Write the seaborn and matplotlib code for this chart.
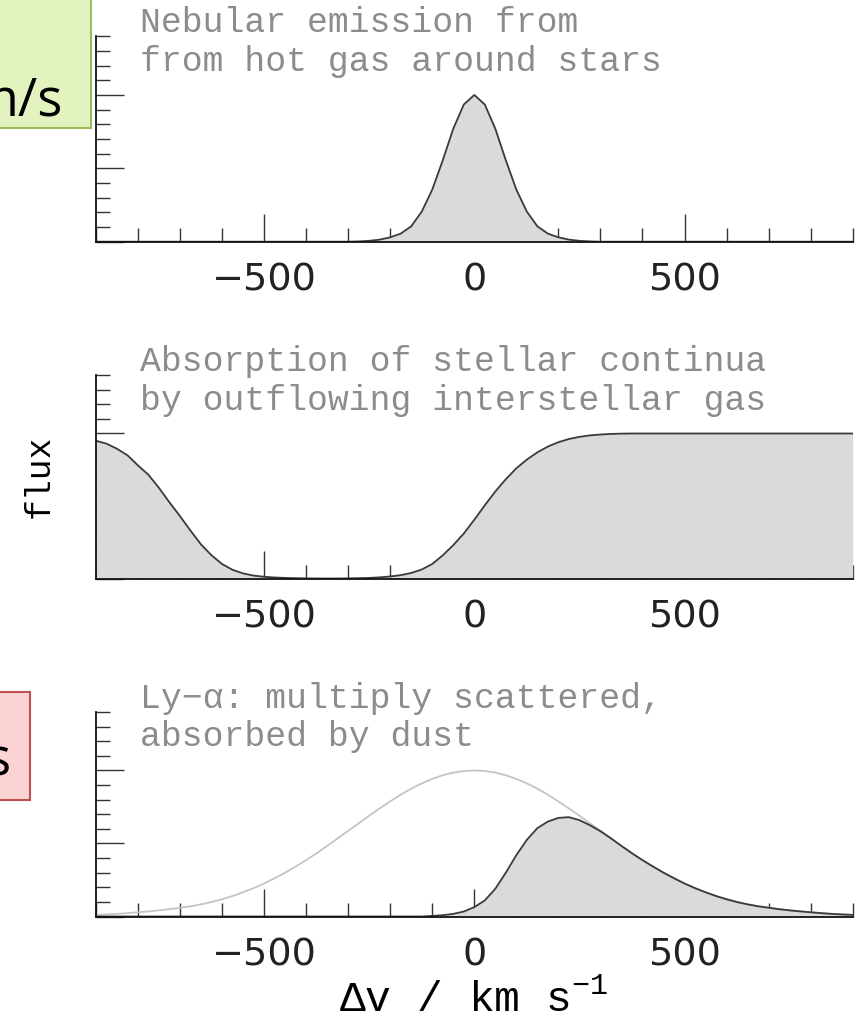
import numpy as np
import pandas as pd
import matplotlib.pyplot as plt
import seaborn as sns
from matplotlib.patches import Rectangle
from matplotlib.ticker import FixedLocator, MultipleLocator

# velocity grid (km/s) the profiles were read on
velocity = np.arange(-900, 901, 25)

# panel 1: nebular emission
nebular = [0.0] * 25 + [
    0.002, 0.006, 0.014, 0.03, 0.055, 0.105, 0.205, 0.355, 0.555, 0.77, 0.935,
    1.0,
    0.935, 0.77, 0.555, 0.355, 0.205, 0.105, 0.055, 0.03, 0.014, 0.006, 0.002,
] + [0.0] * 25

# panel 2: stellar continuum absorbed by outflowing gas
absorbed = [
    0.95, 0.93, 0.895, 0.85, 0.78, 0.715, 0.625, 0.525, 0.43, 0.33, 0.235,
    0.16, 0.10, 0.06, 0.035, 0.02, 0.012, 0.007, 0.004, 0.002, 0.001,
    0.0, 0.0, 0.0, 0.001, 0.002, 0.004, 0.008, 0.014, 0.023, 0.038, 0.062,
    0.10, 0.16, 0.23, 0.31, 0.405, 0.505, 0.60, 0.685, 0.76, 0.82, 0.87,
    0.91, 0.94, 0.962, 0.977, 0.987, 0.993, 0.997, 0.999,
] + [1.0] * 22

# panel 3: intrinsic Ly-alpha (grey) and what escapes (black)
lya_intrinsic = [
    0.011, 0.014, 0.018, 0.023, 0.029, 0.035, 0.042, 0.050, 0.060, 0.070,
    0.083, 0.099, 0.118, 0.140, 0.166, 0.194, 0.226, 0.262, 0.300, 0.342,
    0.386, 0.433, 0.483, 0.535, 0.586, 0.638, 0.690, 0.740, 0.788, 0.834,
    0.875, 0.911, 0.942, 0.967, 0.985, 0.996,
    1.0,
    0.996, 0.985, 0.967, 0.942, 0.911, 0.875, 0.834, 0.788, 0.740, 0.690,
    0.638, 0.586, 0.535, 0.483, 0.433, 0.386, 0.342, 0.300, 0.262, 0.226,
    0.194, 0.166, 0.140, 0.118, 0.099, 0.083, 0.070, 0.060, 0.050, 0.042,
    0.035, 0.029, 0.023, 0.018, 0.014, 0.011,
]
lya_escaped = [0.0] * 32 + [
    0.004, 0.009, 0.018, 0.034, 0.064, 0.11, 0.19, 0.30, 0.42, 0.525, 0.605,
    0.65, 0.675, 0.68, 0.66, 0.625, 0.584, 0.535,
    0.483, 0.433, 0.386, 0.342, 0.300, 0.262, 0.226, 0.194, 0.166, 0.140,
    0.118, 0.099, 0.083, 0.070, 0.060, 0.050, 0.042, 0.035, 0.029, 0.023,
    0.018, 0.014, 0.011,
]

titles = [
    ("Nebular emission from", "from hot gas around stars"),
    ("Absorption of stellar continua", "by outflowing interstellar gas"),
    ("Ly\u2212\u03b1: multiply scattered,", "absorbed by dust"),
]

sns.set_theme(style="ticks")
plt.rcParams["font.family"] = ["DejaVu Sans"]
plt.rcParams["mathtext.fontset"] = "custom"
plt.rcParams["mathtext.rm"] = "Liberation Mono"
mono = ["Liberation Mono", "DejaVu Sans Mono"]

W, H = 855, 1025
fig = plt.figure(figsize=(W / 100, H / 100), dpi=100)
fig.patch.set_facecolor("white")


def rect(left, top, right, bottom):
    return [left / W, 1 - bottom / H, (right - left) / W, (bottom - top) / H]


# slide overlays on the left edge
fig.patches.append(Rectangle((-10 / W, 1 - 128 / H), 100.7 / W, 140 / H,
                             transform=fig.transFigure, facecolor="#e3f3bf",
                             edgecolor="#9bbb59", lw=1.5))
fig.text(63 / W, 1 - 115 / H, "m/s", ha="right", va="baseline",
         fontsize=38, family=["Open Sans", "DejaVu Sans"], color="black")
fig.patches.append(Rectangle((-10 / W, 1 - 800 / H), 40 / W, 108 / H,
                             transform=fig.transFigure, facecolor="#fbd3d3",
                             edgecolor="#c0504d", lw=1.5))
fig.text(10 / W, 1 - 775 / H, "s", ha="right", va="baseline",
         fontsize=38, family=["Open Sans", "DejaVu Sans"], color="black")

panels = [(36.3, 241.7), (375.5, 578.5), (712.0, 916.5)]
profiles = [nebular, absorbed, lya_escaped]

for i, ((top, bottom), prof) in enumerate(zip(panels, profiles)):
    ax = fig.add_axes(rect(95.9, top, 852.7, bottom))
    ax.set_facecolor("white")
    if i == 2:
        sns.lineplot(x=velocity, y=lya_intrinsic, ax=ax, color="#c4c4c4", lw=1.3)
    ax.fill_between(velocity, 0, prof, color="#dadada", lw=0)
    sns.lineplot(x=velocity, y=prof, ax=ax, color="#3a3a3a", lw=1.3)

    ax.set_xlim(-900, 900)
    ax.set_ylim(0, 1.4)
    ax.xaxis.set_major_locator(FixedLocator([-500, 0, 500]))
    ax.xaxis.set_minor_locator(MultipleLocator(100))
    ax.yaxis.set_major_locator(MultipleLocator(0.5))
    ax.yaxis.set_minor_locator(MultipleLocator(0.1))
    ax.tick_params(which="major", direction="in", length=20, width=1.0,
                   color="#333333", labelsize=27.5, pad=15, labelcolor="#222222")
    ax.tick_params(which="minor", direction="in", length=10, width=1.0,
                   color="#333333")
    ax.tick_params(axis="y", labelleft=False)
    ax.set_xlabel("")
    ax.set_ylabel("")
    sns.despine(ax=ax)
    for s in ["left", "bottom"]:
        ax.spines[s].set_color("#111111")
        ax.spines[s].set_linewidth(1.3)

    line1, line2 = titles[i]
    ax.annotate(line1, xy=(0, 1), xycoords="axes fraction", xytext=(31.7, 2.9),
                textcoords="offset points", va="baseline", ha="left",
                fontsize=25, family=mono, color="#8c8c8c", annotation_clip=False)
    ax.annotate(line2, xy=(0, 1), xycoords="axes fraction", xytext=(31.7, -24.8),
                textcoords="offset points", va="baseline", ha="left",
                fontsize=25, family=mono, color="#8c8c8c", annotation_clip=False)

fig.text(39 / W, 1 - 476 / H, "flux", rotation=90, ha="center", va="center",
         fontsize=25, family=mono, color="black")
fig.text(474 / W, 1 - 1011.7 / H, "\u0394v / km s$^{-1}$", ha="center",
         va="baseline", fontsize=31, family=mono, color="black")

fig.savefig("out.png", dpi=100)
